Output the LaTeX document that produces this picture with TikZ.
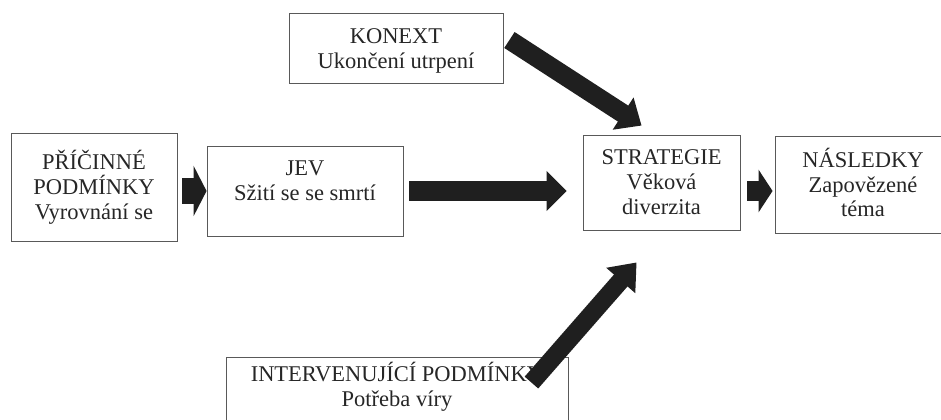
\documentclass[tikz,border=0pt]{standalone}
\usepackage{fontspec}
\setmainfont{Liberation Serif}
\usetikzlibrary{arrows.meta,calc,positioning}
\tikzset{
  bx/.style={rectangle,draw=black!65,line width=.5pt,inner sep=0pt},
  tx/.style={align=center,inner sep=0pt,text=black!85,font=\fontsize{12.8pt}{14.2pt}\selectfont},
  blk/.style={draw=black!88},
}

\begin{document}
\begin{tikzpicture}
\useasboundingbox (0,0) rectangle (18.82,8.4);
\clip (0,0) rectangle (18.82,8.4);
% ---- boxes
\node[bx,minimum width=3.32cm,minimum height=2.16cm] (pri) at (1.88,4.66) {};
\node[bx,minimum width=3.92cm,minimum height=1.80cm] (jev) at (6.10,4.58) {};
\node[bx,minimum width=4.28cm,minimum height=1.40cm] (kon) at (7.92,7.44) {};
\node[bx,minimum width=3.14cm,minimum height=1.90cm] (str) at (13.23,4.75) {};
\node[bx,minimum width=3.52cm,minimum height=1.94cm] (nas) at (17.26,4.71) {};
\node[bx,minimum width=6.84cm,minimum height=1.76cm] (int) at (7.94,0.38) {};
% ---- texts
\node[tx] (prit) at (pri.center) {PŘÍČINNÉ\\PODMÍNKY\\Vyrovnání se};
\node[tx] (jevt) at ([yshift=.21cm]jev.center) {JEV\\Sžití se se smrtí};
\node[tx] (kont) at ([yshift=-.06cm]kon.center) {KONEXT\\Ukončení utrpení};
\node[tx] (strt) at (str.center) {STRATEGIE\\Věková\\diverzita};
\node[tx] (nast) at ([yshift=.04cm]nas.center) {NÁSLEDKY\\Zapovězené\\téma};
\node[tx] (intt) at ([yshift=.28cm]int.center) {INTERVENUJÍCÍ PODMÍNKY\\Potřeba víry};
% ---- block arrows
\draw[blk,line width=.52cm,-{Triangle[length=.26cm,width=1.0cm]}]
  ([xshift=.1cm]pri.east |- jev.west) -- (jev.west);
\draw[blk,line width=.40cm,-{Triangle[length=.40cm,width=.78cm]},shorten >=.32cm]
  ([xshift=.12cm]jev.east) -- (str.west |- jev.east);
\draw[blk,line width=.40cm,-{Triangle[length=.28cm,width=.84cm]},shorten >=.04cm]
  ([xshift=.14cm]str.east |- jev.east) -- (nas.west |- jev.east);
\draw[blk,line width=.38cm,-{Triangle[length=.44cm,width=.74cm]}]
  ($(kon.east)+(.12,.16)$) -- ($(str.north west)+(1.18,.18)$);
\draw[blk,line width=.36cm,-{Triangle[length=.48cm,width=.74cm]}]
  ($(int.north east)+(-.74,-.52)$) -- ($(str.south west)+(1.08,-.64)$);
\end{tikzpicture}
\end{document}
